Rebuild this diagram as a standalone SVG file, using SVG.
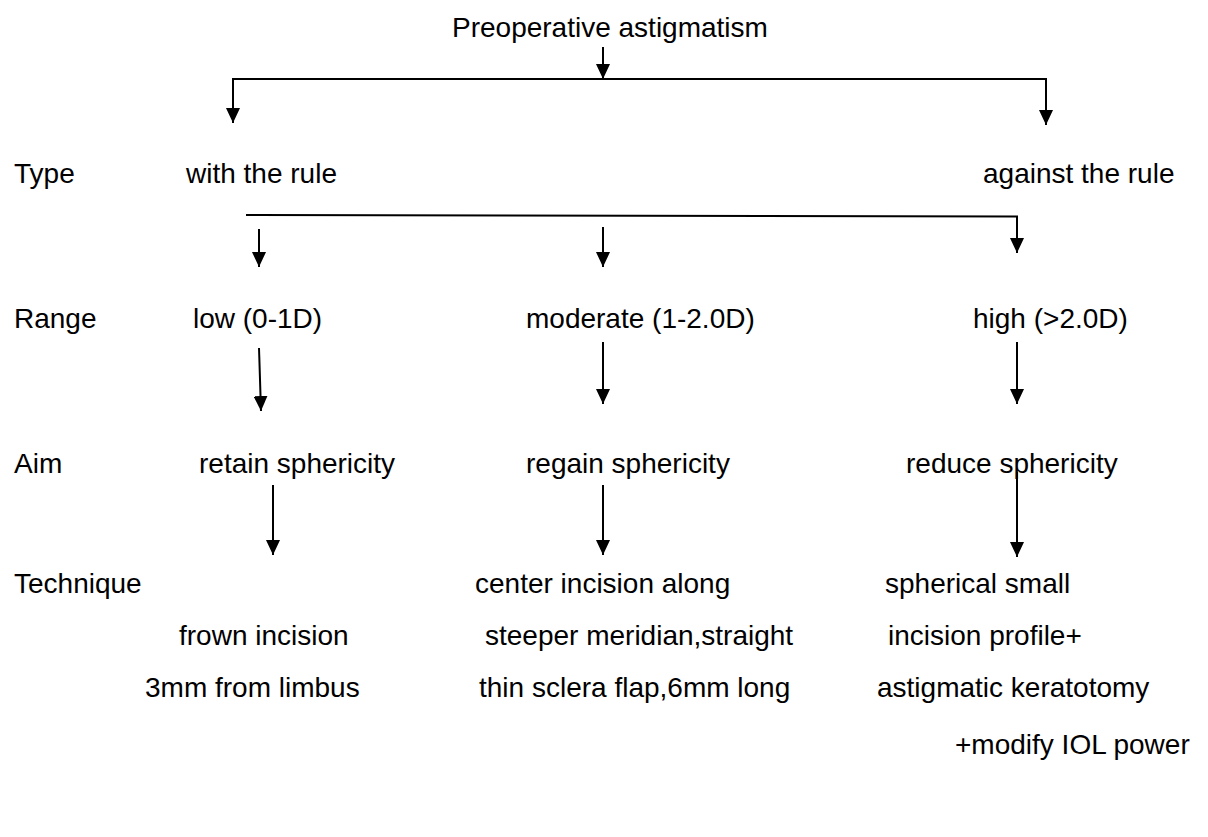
<svg xmlns="http://www.w3.org/2000/svg" width="1208" height="837" viewBox="0 0 1208 837">
<defs>
<style>
text{font-family:"Liberation Sans",Arial,sans-serif;font-size:28px;fill:#000}
.c line,.c path{stroke:#000;stroke-width:2;fill:none}
</style>
<marker id="ah" markerUnits="userSpaceOnUse" markerWidth="15" markerHeight="14" refX="15" refY="7" orient="auto">
<path d="M0,0 L15,7 L0,14 z" fill="#000"/>
</marker>
</defs>
<rect width="1208" height="837" fill="#fff"/>
<g id="title"><text x="452" y="37">Preoperative astigmatism</text></g>
<g id="type-label"><text x="14" y="183">Type</text></g>
<g id="with-rule"><text x="186" y="183">with the rule</text></g>
<g id="against-rule"><text x="983" y="183">against the rule</text></g>
<g id="range-label"><text x="14" y="328">Range</text></g>
<g id="low"><text x="193" y="328">low (0-1D)</text></g>
<g id="moderate"><text x="526" y="328">moderate (1-2.0D)</text></g>
<g id="high"><text x="973" y="328">high (&gt;2.0D)</text></g>
<g id="aim-label"><text x="14" y="473">Aim</text></g>
<g id="retain"><text x="199" y="473">retain sphericity</text></g>
<g id="regain"><text x="526" y="473">regain sphericity</text></g>
<g id="reduce"><text x="906" y="473">reduce sphericity</text></g>
<g id="technique-label"><text x="14" y="593">Technique</text></g>
<g id="tech-low"><text x="179" y="645">frown incision</text><text x="145" y="697">3mm from limbus</text></g>
<g id="tech-moderate"><text x="475" y="593">center incision along</text><text x="485" y="645">steeper meridian,straight</text><text x="479" y="697">thin sclera flap,6mm long</text></g>
<g id="tech-high"><text x="885" y="593">spherical small</text><text x="888" y="645">incision profile+</text><text x="877" y="697">astigmatic keratotomy</text><text x="955" y="754">+modify IOL power</text></g>
<g id="connectors" class="c">
<line x1="603" y1="47" x2="603" y2="79" marker-end="url(#ah)"/>
<line x1="232" y1="79" x2="1047" y2="79"/>
<line x1="233" y1="79" x2="233" y2="123" marker-end="url(#ah)"/>
<line x1="1046" y1="79" x2="1046" y2="125" marker-end="url(#ah)"/>
<path d="M246,215 L1017,216.5 L1017,253" marker-end="url(#ah)"/>
<line x1="259" y1="229" x2="259" y2="267" marker-end="url(#ah)"/>
<line x1="603" y1="227" x2="603" y2="267" marker-end="url(#ah)"/>
<line x1="259" y1="348" x2="261" y2="411" marker-end="url(#ah)"/>
<line x1="603" y1="342" x2="603" y2="404" marker-end="url(#ah)"/>
<line x1="1017" y1="342" x2="1017" y2="404" marker-end="url(#ah)"/>
<line x1="273" y1="485" x2="273" y2="555" marker-end="url(#ah)"/>
<line x1="603" y1="485" x2="603" y2="555" marker-end="url(#ah)"/>
<line x1="1017" y1="472" x2="1017" y2="557" marker-end="url(#ah)"/>
</g>
</svg>
